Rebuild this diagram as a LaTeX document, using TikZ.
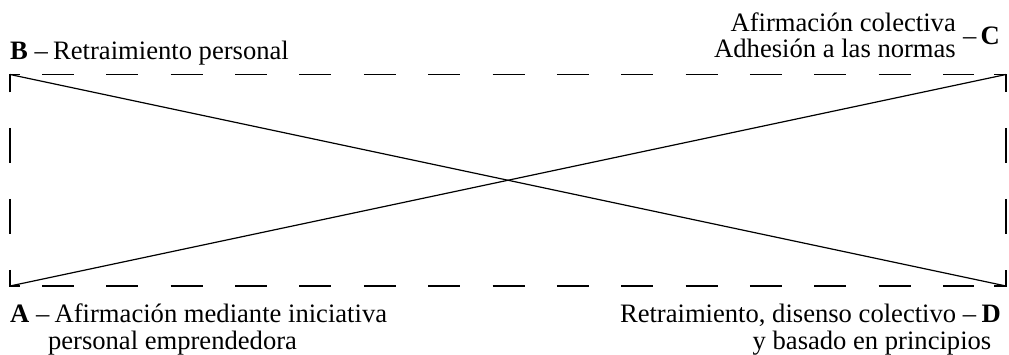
\documentclass[tikz,border=0pt]{standalone}
\usepackage{fontspec}
\setmainfont{Liberation Serif}
\usetikzlibrary{calc}
\begin{document}
\begin{tikzpicture}[x=1pt,y=-1pt,
  lab/.style={inner sep=0pt, font=\fontsize{26.6}{30}\selectfont},
  frame/.style={line width=1.3pt},
  hdash/.style={frame, dash pattern=on 32pt off 32.36pt},
  vdash/.style={frame, dash pattern=on 35pt off 36pt},
  diag/.style={line width=1.2pt}]
\useasboundingbox (0,0) rectangle (1009,355);
\coordinate (TL) at (10,74.5);
\coordinate (TR) at (1006,74.5);
\coordinate (BL) at (10,286);
\coordinate (BR) at (1006,286);
% corners
\draw[frame] ($(TL)+(0,18)$) -- (TL) -- ($(TL)+(10,0)$);
\draw[frame] ($(TR)+(-12,0)$) -- (TR) -- ($(TR)+(0,18)$);
\draw[frame] ($(BL)+(0,-16)$) -- (BL) -- ($(BL)+(10,0)$);
\draw[frame] ($(BR)+(-12,0)$) -- (BR) -- ($(BR)+(0,-16)$);
% dashed sides
\draw[hdash] ($(TL)+(32,0)$) -- ($(TR)+(-32,0)$);
\draw[hdash] ($(BL)+(32,0)$) -- ($(BR)+(-32,0)$);
\draw[vdash] ($(TL)+(0,53.5)$) -- ($(BL)+(0,-52)$);
\draw[vdash] ($(TR)+(0,53.5)$) -- ($(BR)+(0,-52)$);
% diagonals
\draw[diag] (TL) -- (BR);
\draw[diag] (BL) -- (TR);
% labels
\node[lab, anchor=base west] (Bl) at (10,60) {\textbf{B}\hspace{0.25em}–\hspace{0.2em}Retraimiento personal};
\node[lab, anchor=base east] (C1) at (956,32) {Afirmación colectiva};
\node[lab, anchor=base east] (C2) at (956,58) {Adhesión a las normas};
\node[lab, anchor=base east] (Cl) at (1000,45) {–\hspace{0.15em}\textbf{C}};
\node[lab, anchor=base west] (A1) at (10,323) {\textbf{A}\hspace{0.25em}–\hspace{0.2em}Afirmación mediante iniciativa};
\node[lab, anchor=base] (A2) at (172.5,349) {personal emprendedora};
\node[lab, anchor=base east] (D1) at (1001,323) {Retraimiento, disenso colectivo\hspace{0.25em}–\hspace{0.2em}\textbf{D}};
\node[lab, anchor=base] (D2) at (872,349) {y basado en principios};
\end{tikzpicture}
\end{document}
